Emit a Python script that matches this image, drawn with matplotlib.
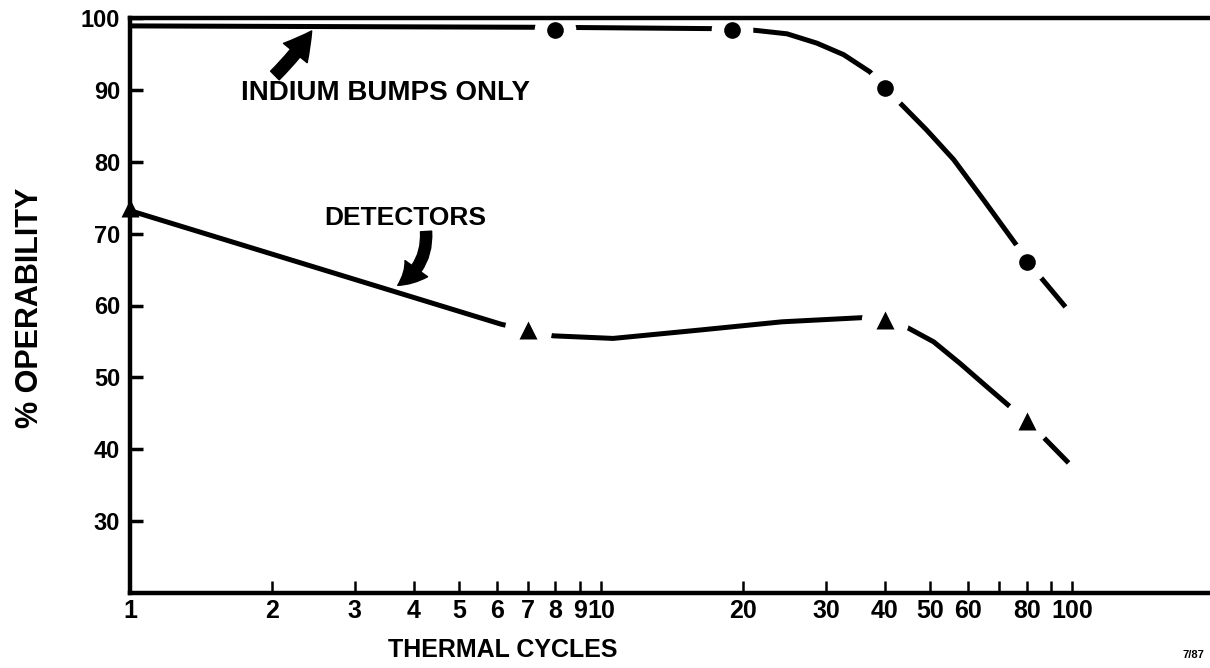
import matplotlib
matplotlib.use("Agg")
import matplotlib.pyplot as plt

# ---- data ----
# indium bumps only: measured points and the hand-drawn curve through them
ind_pts_x = [8, 19, 40, 80]
ind_pts_y = [98.3, 98.3, 90.2, 66.1]
ind_curve_x = [1, 8, 19, 21.4, 24.8, 28.7, 32.7, 37.2, 40, 43.5, 49.1, 56.0, 64.8, 76.9, 80, 85.5, 96.7]
ind_curve_y = [98.9, 98.7, 98.5, 98.26, 97.8, 96.5, 94.9, 92.5, 90.2, 87.9, 84.4, 80.3, 74.7, 68.0, 66.1, 64.0, 59.8]

# detectors
det_pts_x = [1, 7, 40, 80]
det_pts_y = [73.5, 56.6, 58.0, 43.9]
det_curve_x = [1, 6.13, 6.94, 7.91, 10.6, 16.1, 24.2, 36.6, 40, 44.6, 50.8, 57.8, 65.9, 74.5, 80, 86.3, 98.2]
det_curve_y = [73.2, 57.4, 56.6, 55.78, 55.42, 56.57, 57.73, 58.34, 58.1, 56.95, 54.94, 51.93, 48.68, 45.68, 43.9, 41.85, 38.1]

x_ticks = [1, 2, 3, 4, 5, 6, 7, 8, 9, 10, 20, 30, 40, 50, 60, 70, 80, 90, 100]
x_labels = ["1", "2", "3", "4", "5", "6", "7", "8", "9", "10",
            "20", "30", "40", "50", "60", "", "80", "", "100"]
y_ticks = [30, 40, 50, 60, 70, 80, 90, 100]

plt.rcParams['font.family'] = ['Liberation Sans', 'DejaVu Sans']
plt.rcParams['font.weight'] = 'bold'

fig = plt.figure(figsize=(12.1, 6.68), dpi=100)
ax = fig.add_axes([130 / 1210, 75 / 668, 1080 / 1210, 575 / 668])

# curves
ax.plot(ind_curve_x, ind_curve_y, color='k', lw=3.6, solid_capstyle='butt', solid_joinstyle='round', zorder=2)
ax.plot(det_curve_x, det_curve_y, color='k', lw=3.6, solid_capstyle='butt', solid_joinstyle='round', zorder=2)

# white patches that break the lines around the markers
ax.plot(ind_pts_x, ind_pts_y, 'o', color='white', ms=30, mec='none', zorder=2.2)
ax.plot(det_pts_x[1:], det_pts_y[1:], 'o', color='white', ms=34, mec='none', zorder=2.2)

# markers
ax.plot(ind_pts_x, ind_pts_y, 'o', color='k', ms=12, mec='none', zorder=3)
ax.plot(det_pts_x, det_pts_y, '^', color='k', ms=13, mec='none', zorder=3, clip_on=False)

ax.set_xscale('log')
ax.set_xlim(1, 196)
ax.set_ylim(20, 100)

ax.set_xticks(x_ticks)
ax.set_xticklabels(x_labels, fontsize=18, fontweight='bold')
ax.xaxis.set_minor_locator(matplotlib.ticker.NullLocator())
ax.set_yticks(y_ticks)
ax.set_yticklabels([str(v) for v in y_ticks], fontsize=17, fontweight='bold')

ax.tick_params(axis='x', direction='in', length=9, width=1.8, pad=4)
ax.tick_params(axis='y', direction='in', length=9, width=2.5, pad=7)

for side in ['left', 'bottom', 'top']:
    ax.spines[side].set_linewidth(3.2)
ax.spines['right'].set_visible(False)

# annotations
ax.text(3.48, 89.6, "INDIUM BUMPS ONLY", ha='center', va='center', fontsize=20, fontweight='bold')
ax.text(3.84, 72.2, "DETECTORS", ha='center', va='center', fontsize=19, fontweight='bold')

ax.annotate('', xy=(2.43, 98.2), xytext=(2.03, 92.0),
            arrowprops=dict(arrowstyle='simple,head_length=0.9,head_width=1.0,tail_width=0.4',
                            connectionstyle='arc3,rad=0.05', fc='k', ec='k',
                            shrinkA=0, shrinkB=0, mutation_scale=22))
ax.annotate('', xy=(3.7, 62.8), xytext=(4.25, 70.3),
            arrowprops=dict(arrowstyle='simple,head_length=0.9,head_width=1.0,tail_width=0.4',
                            connectionstyle='arc3,rad=-0.3', fc='k', ec='k',
                            shrinkA=0, shrinkB=0, mutation_scale=20))

fig.text(30 / 1210, 1 - 308 / 668, "% OPERABILITY", rotation=90, ha='center', va='center',
         fontsize=22, fontweight='bold')
fig.text(503 / 1210, 1 - 650 / 668, "THERMAL CYCLES", ha='center', va='center',
         fontsize=18, fontweight='bold')
fig.text(1193 / 1210, 1 - 655 / 668, "7/87", ha='center', va='center',
         fontsize=8, fontweight='bold')

fig.savefig("out.png", dpi=100)
